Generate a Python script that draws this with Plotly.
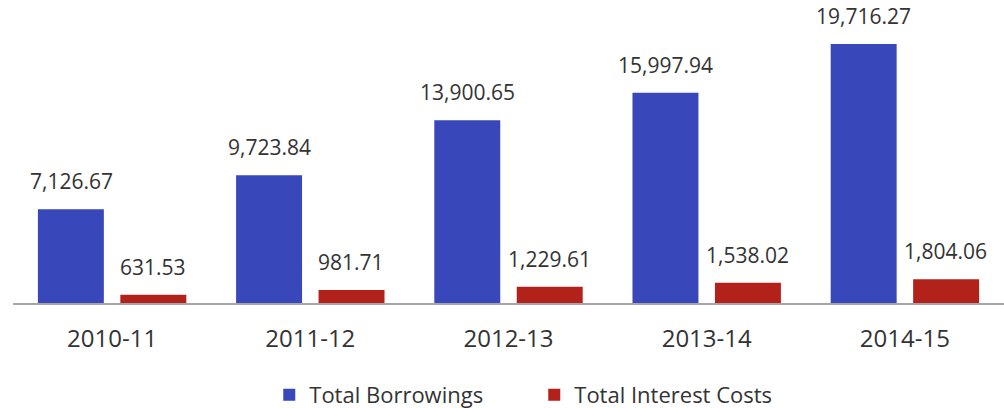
import plotly.graph_objects as go

years = ["2010-11", "2011-12", "2012-13", "2013-14", "2014-15"]
total_borrowings = [7126.67, 9723.84, 13900.65, 15997.94, 19716.27]
total_interest_costs = [631.53, 981.71, 1229.61, 1538.02, 1804.06]

BLUE = "#3847b9"
RED = "#b3211b"
TEXT = "#333333"
FONT = "Open Sans"

fig = go.Figure()
fig.add_trace(go.Bar(name="Total Borrowings", x=years, y=total_borrowings,
                     marker_color=BLUE, marker_line_width=0))
fig.add_trace(go.Bar(name="Total Interest Costs", x=years, y=total_interest_costs,
                     marker_color=RED, marker_line_width=0))

# value labels above each bar (half a bar slot either side of the category centre)
for shift, vals in [(-41, total_borrowings), (41, total_interest_costs)]:
    for yr, v in zip(years, vals):
        fig.add_annotation(
            x=yr, y=v, xref="x", yref="y", xshift=shift,
            text=f"{v:,.2f}", showarrow=False, yanchor="bottom",
            yshift=12, font=dict(family=FONT, size=21, color=TEXT),
        )

fig.update_layout(
    width=1004, height=408,
    margin=dict(l=13, r=0, t=5, b=105, autoexpand=False),
    paper_bgcolor="white", plot_bgcolor="white",
    barmode="group", bargap=0.168, bargroupgap=0.2,
    font=dict(family=FONT, color=TEXT),
    showlegend=True,
    legend=dict(orientation="h", x=0.526, xanchor="center",
                yref="container", y=0.032, yanchor="middle",
                font=dict(family=FONT, size=22, color=TEXT), entrywidth=220,
                itemwidth=30),
)
fig.update_xaxes(type="category", showline=True, linecolor="#a6a6a6", linewidth=1.5,
                 ticks="outside", ticklen=13, tickcolor="rgba(0,0,0,0)",
                 tickfont=dict(family=FONT, size=24, color=TEXT),
                 showgrid=False)
fig.update_yaxes(range=[0, 22680], visible=False, showgrid=False, zeroline=False)

fig.write_html("out.html")
